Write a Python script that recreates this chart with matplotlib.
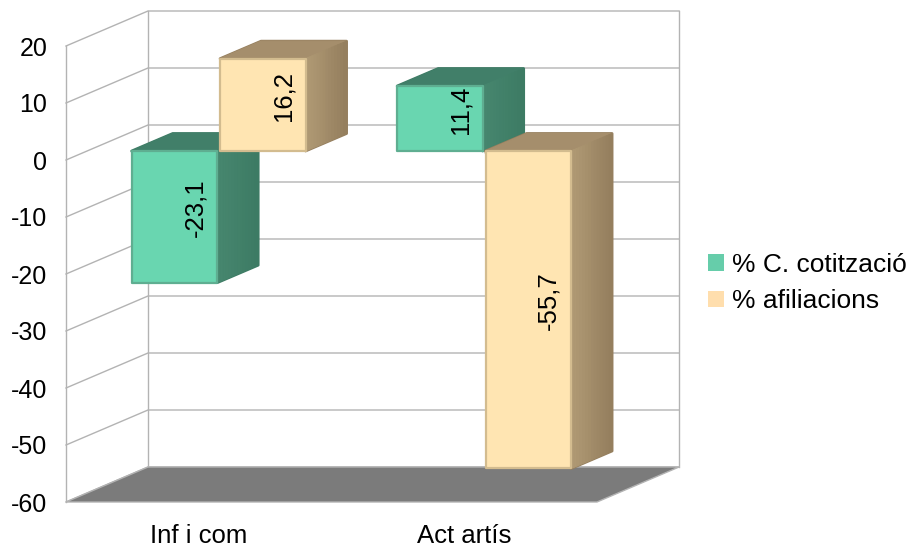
import numpy as np
import matplotlib
matplotlib.use('Agg')
import matplotlib.pyplot as plt
from matplotlib.colors import to_rgb
from matplotlib.patches import Patch, Polygon

plt.rcParams['font.family'] = ['Liberation Sans', 'DejaVu Sans']

# datos
categorias = ['Inf i com', 'Act artís']
series = ['% C. cotització', '% afiliacions']
cotitzacio = [-23.1, 11.4]
afiliacions = [16.2, -55.7]
yticks = [-60, -50, -40, -30, -20, -10, 0, 10, 20]

W, H = 912, 548
x0, x1 = 66, 597        # plano frontal, px
y0, y1 = 502, 46
dx_fundo, dy_fundo = 82, 35

cor_grade = '#b3b3b3'
face = ['#69d6b0', '#ffe5b2']
borda = ['#5fae91', '#d3bc8f']
topo = ['#417f69', '#a58e6c']
lado_a = ['#47876f', '#b09a75']
lado_b = ['#3d7b64', '#957f5e']
legenda = ['#66cdaa', '#ffdead']

fig = plt.figure(figsize=(W/100, H/100), dpi=100)
ax = fig.add_axes([x0/W, 1 - y0/H, (x1 - x0)/W, (y0 - y1)/H])
ax.set_xlim(0, 2)
ax.set_ylim(-60, 20)
ax.patch.set_visible(False)
for s in ax.spines.values():
    s.set_visible(False)

kx = dx_fundo / ((x1 - x0) / 2)
ky = dy_fundo / ((y0 - y1) / 80)


def proj(x, y, d):
    # d = 0 plano frontal, d = 1 parede do fundo
    return (x + d*kx, y + d*ky)


def poly(pts, **kw):
    ax.add_patch(Polygon(pts, closed=True, clip_on=False, **kw))


# paredes e grade
for v in yticks:
    ax.plot(*zip(proj(0, v, 0), proj(0, v, 1), proj(2, v, 1)), color=cor_grade, lw=1, clip_on=False, zorder=1)
ax.plot(*zip(proj(0, -60, 0), proj(0, 20, 0)), color=cor_grade, lw=1, clip_on=False, zorder=1)
ax.plot(*zip(proj(0, -60, 1), proj(0, 20, 1)), color=cor_grade, lw=1, clip_on=False, zorder=1)
ax.plot(*zip(proj(2, -60, 1), proj(2, 20, 1)), color=cor_grade, lw=1, clip_on=False, zorder=1)

# chao
poly([proj(0, -60, 0), proj(2, -60, 0), proj(2, -60, 1), proj(0, -60, 1)],
     facecolor='#7b7b7b', edgecolor=cor_grade, lw=1, zorder=2)

# barras
largura = 0.322
d_a, d_b = 0.257, 0.757
z = 3


def barra(x, v, i):
    global z
    xa, xb = x, x + largura
    alto = max(v, 0)
    baixo = min(v, 0)
    # contorno externo com cantos arredondados
    poly([proj(xa, alto, d_a), proj(xa, alto, d_b), proj(xb, alto, d_b), proj(xb, baixo, d_b), proj(xb, baixo, d_a)],
         facecolor=topo[i], edgecolor=lado_b[i], lw=2, joinstyle='round', zorder=z)
    poly([proj(xa, alto, d_a), proj(xb, alto, d_a), proj(xb, alto, d_b), proj(xa, alto, d_b)],
         facecolor=topo[i], edgecolor=topo[i], lw=1, joinstyle='round', zorder=z)
    # lado direito em tiras para o degrade
    n = 14
    c_a, c_b = np.array(to_rgb(lado_a[i])), np.array(to_rgb(lado_b[i]))
    for k in range(n):
        d1 = d_a + (d_b - d_a)*k/n
        d2 = d_a + (d_b - d_a)*(k + 1)/n
        c = c_a + (c_b - c_a)*k/(n - 1)
        poly([proj(xb, baixo, d1), proj(xb, baixo, d2), proj(xb, alto, d2), proj(xb, alto, d1)],
             facecolor=c, edgecolor=c, lw=0.8, joinstyle='round', zorder=z)
    poly([proj(xa, baixo, d_a), proj(xb, baixo, d_a), proj(xb, alto, d_a), proj(xa, alto, d_a)],
         facecolor=face[i], edgecolor=borda[i], lw=1.6, joinstyle='round', zorder=z + 1)
    tx, ty = proj(x + largura/2, v/2, (d_a + d_b)/2)
    ax.text(tx, ty, str(v).replace('.', ','), rotation=90, ha='center', va='center',
            fontsize=18.5, color='black', zorder=20, clip_on=False)
    z += 2


for g in range(len(categorias)):
    barra(g + 0.168, cotitzacio[g], 0)
    barra(g + 0.501, afiliacions[g], 1)

# eixos
ax.set_yticks(yticks)
ax.set_yticklabels([str(v) for v in yticks], fontsize=18)
ax.set_xticks([0.5, 1.5])
ax.set_xticklabels(categorias, fontsize=18.5)
ax.tick_params(axis='both', length=0)
ax.tick_params(axis='y', pad=13.5)
ax.tick_params(axis='x', pad=16)

alcas = [Patch(facecolor=legenda[0], edgecolor='none'), Patch(facecolor=legenda[1], edgecolor='none')]
fig.legend(alcas, series, loc='center left', bbox_to_anchor=(708/W, 1 - 283/H), frameon=False,
           fontsize=19, handlelength=0.6, handleheight=0.6, handletextpad=0.3,
           labelspacing=0.48, borderpad=0, borderaxespad=0)

fig.savefig('out.png', dpi=100)
